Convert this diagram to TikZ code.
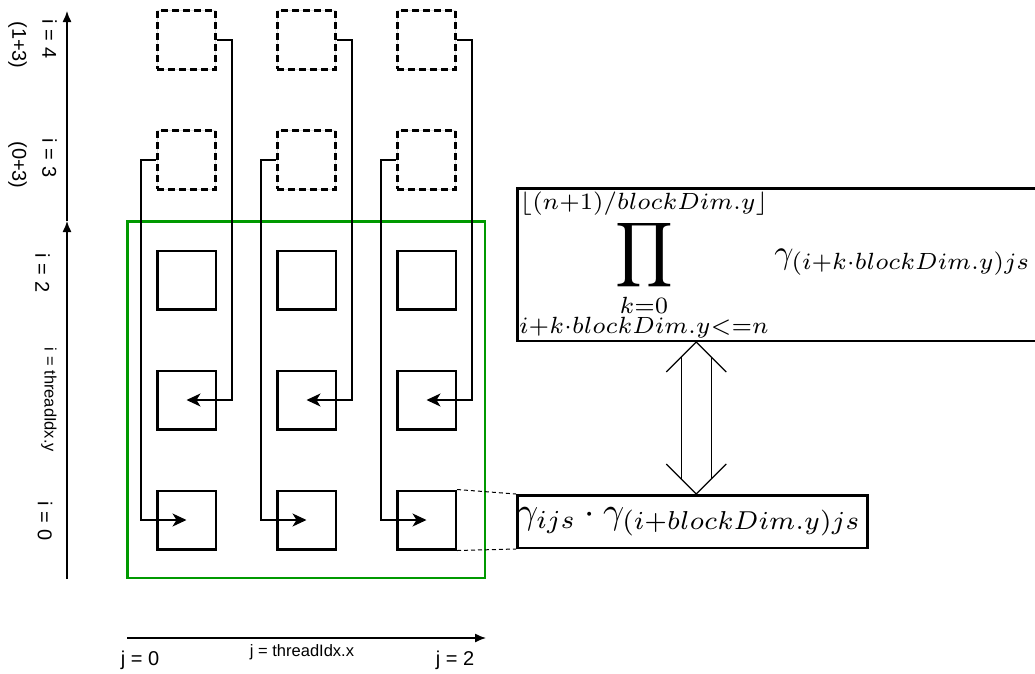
\documentclass[tikz,border=0pt]{standalone}
\usepackage{fontspec}
\usepackage{amsmath}
\usepackage{graphicx}
\newfontfamily\lab{Liberation Sans}
\usetikzlibrary{arrows.meta,calc}
\definecolor{grn}{RGB}{0,153,0}
\newcommand{\bigprod}{\mathop{\vcenter{\hbox{\scalebox{1.35}{$\displaystyle\prod$}}}}\limits}
\begin{document}
\begin{tikzpicture}[x=1pt,y=-1pt,
  cell/.style={draw, line width=2.5pt, minimum size=58.5pt, inner sep=0pt},
  ghost/.style={draw, line width=2.6pt, dash pattern=on 7pt off 4pt, minimum size=58.5pt, inner sep=0pt,
    preaction={draw, black!12, line width=1pt, solid}},
  link/.style={line width=1.2pt, -{Stealth[length=14pt,width=13pt,inset=4pt]}},
  axis/.style={line width=1.3pt, -{Latex[length=11pt,width=9pt]}},
  big/.style={font=\lab\fontsize{20}{24}\selectfont, inner sep=0pt},
  small/.style={font=\lab\fontsize{16.5}{20}\selectfont, inner sep=0pt},
  fbox/.style={draw, line width=2.5pt, inner sep=0pt},
  hollow/.style={line width=1.3pt},
  guide/.style={line width=1pt, dash pattern=on 4pt off 3pt}]
\useasboundingbox (0,0) rectangle (1035,673);

% green block
\node[draw=grn, line width=2.5pt, anchor=north west, minimum width=357.5pt, minimum height=356.5pt, inner sep=0pt] (blk) at (126,220) {};

% cells and connectors
\foreach \c/\x in {0/186.5,1/306.5,2/426.5} {
  \node[ghost] (s\c4) at (\x,40) {};
  \node[ghost] (s\c3) at (\x,160) {};
  \node[cell] (s\c2) at (\x,280) {};
  \node[cell] (s\c1) at (\x,400) {};
  \node[cell] (s\c0) at (\x,520) {};
  \draw[link] (s\c4.east) -- ++(15,0) |- (s\c1.center);
  \draw[link] (s\c3.west) -- ++(-15,0) |- (s\c0.center);
}

% left axis
\coordinate (ax0) at (67,579);
\coordinate (ax1) at (67,221);
\coordinate (ax2) at (67,11);
\draw[axis] (ax0) -- (ax1);
\draw[axis] (ax1) -- (ax2);

% bottom axis
\coordinate (bx0) at (127,638);
\coordinate (bx1) at (486,638);
\draw[axis] (bx0) -- (bx1);

% left labels
\node[big, rotate=-90] (li4) at (49.5,39) {i = 4};
\node[big, rotate=-90] (lp4) at (17.5,45) {(1+3)};
\node[big, rotate=-90] (li3) at (49.5,158) {i = 3};
\node[big, rotate=-90] (lp3) at (17.5,165) {(0+3)};
\node[big, rotate=-90] (li2) at (42.5,273) {i = 2};
\node[small, rotate=-90] (liy) at (49,400) {i = threadIdx.y};
\node[big, rotate=-90] (li0) at (45,521) {i = 0};

% bottom labels
\node[big] (lj0) at (140,660) {j = 0};
\node[small] (ljx) at (302,652) {j = threadIdx.x};
\node[big] (lj2) at (455,660) {j = 2};

% product box
\node[fbox, anchor=north west, minimum width=540pt, minimum height=152.5pt] (pbox) at (516,187) {};
\node[anchor=west, inner sep=0pt] (pform) at (519,265)
  {\scalebox{3.35}{$\displaystyle\bigprod_{\substack{k=0\\ i+k\cdot blockDim.y<=n}}^{\lfloor (n+1)/blockDim.y\rfloor}\gamma_{(i+k\cdot blockDim.y)js}$}};

% lower formula box
\node[fbox, anchor=north west, minimum width=350pt, minimum height=52.5pt] (gbox) at (516,494) {};
\node[inner sep=0pt] (gform) at ($(gbox.center)+(-3,0)$)
  {\scalebox{3.7}{$\gamma_{ijs}\cdot\gamma_{(i+blockDim.y)js}$}};

% guide lines
\draw[guide] (s20.north east) -- (gbox.north west);
\draw[guide] (s20.south east) -- (gbox.south west);

% hollow double arrow
\path ($(gbox.north)+(4,0)$) coordinate (dbot);
\path (dbot |- pbox.south) coordinate (dtop);
\draw[hollow] ($(dtop)+(-30,30)$) -- (dtop) -- ($(dtop)+(30,30)$);
\draw[hollow] ($(dbot)+(-30,-30)$) -- (dbot) -- ($(dbot)+(30,-30)$);
\draw[hollow] ($(dtop)+(-15,15)$) -- ($(dbot)+(-15,-15)$);
\draw[hollow] ($(dtop)+(15,15)$) -- ($(dbot)+(15,-15)$);
\end{tikzpicture}
\end{document}
